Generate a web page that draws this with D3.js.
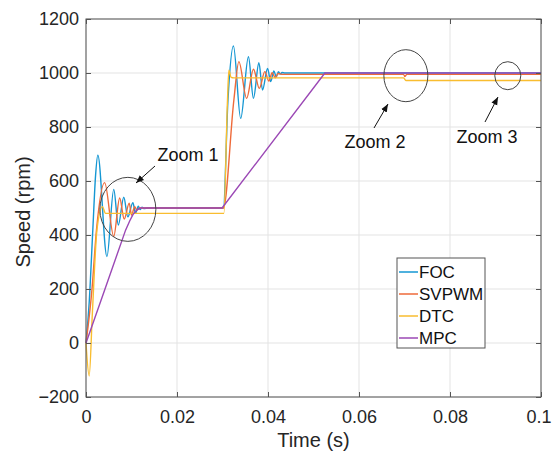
<!DOCTYPE html>
<html>
<head>
<meta charset="utf-8">
<script src="https://cdn.jsdelivr.net/npm/d3@7"></script>
<style>
  body { margin: 0; background: #fff; }
  svg { font-family: "Liberation Sans", Arial, sans-serif; }
</style>
</head>
<body>
<div id="chart"></div>
<script>
// Speed responses: [time (s), speed (rpm)]
var focData = [
  [0, 0], [0.0007, 150], [0.0015, 420], [0.0021, 620], [0.0026, 696],
  [0.0046, 320], [0.0061, 569], [0.0071, 437], [0.0083, 540], [0.0092, 467],
  [0.0103, 520], [0.0109, 481], [0.0115, 507], [0.0119, 494], [0.0123, 503],
  [0.0128, 498], [0.0135, 500], [0.0302, 500], [0.0312, 900], [0.0324, 1100],
  [0.0340, 832], [0.0357, 1060], [0.0368, 906], [0.0380, 1038], [0.0388, 937],
  [0.0399, 1017], [0.0406, 968], [0.0413, 1008], [0.0418, 986], [0.0423, 1005],
  [0.0427, 996], [0.0431, 1002], [0.0437, 1000], [0.1, 1000]
];
var svpwmData = [
  [0, 0], [0.0013, 196], [0.0023, 418], [0.0041, 594], [0.0061, 395],
  [0.0074, 537], [0.0084, 459], [0.0095, 518], [0.0100, 474], [0.0107, 505],
  [0.0112, 492], [0.0118, 500], [0.0302, 500], [0.0325, 900], [0.0336, 1042],
  [0.0353, 906], [0.0368, 1014], [0.0381, 943], [0.0393, 1005], [0.0402, 970],
  [0.0409, 1001], [0.0416, 982], [0.0422, 998], [0.0430, 995], [0.0698, 995],
  [0.0701, 987], [0.0705, 995], [0.1, 995]
];
var dtcData = [
  [0, 0], [0.0007, -122], [0.0014, 111], [0.0024, 418], [0.0036, 505],
  [0.0043, 480], [0.0303, 480], [0.0311, 900], [0.0314, 1010], [0.0319, 984],
  [0.0325, 982], [0.0698, 982], [0.0703, 972], [0.1, 972]
];
var mpcData = [
  [0, 0], [0.0041, 196], [0.0087, 418], [0.0096, 452], [0.0104, 478],
  [0.0112, 493], [0.012, 500], [0.0299, 500], [0.0525, 1000], [0.1, 1000]
];

var seriesNames = ["FOC", "SVPWM", "DTC", "MPC"];
var seriesColors = ["#1597d3", "#ee6a3a", "#f9bd2f", "#9b48b5"];

var xTicks = [0, 0.02, 0.04, 0.06, 0.08, 0.1];
var yTicks = [-200, 0, 200, 400, 600, 800, 1000, 1200];

// Annotation labels
var zoomLabels = ["Zoom 1", "Zoom 2", "Zoom 3"];

var svgWidth = 552;
var svgHeight = 455;
var margin = { top: 19, right: 11, bottom: 58, left: 86 };
var width = svgWidth - margin.left - margin.right;
var height = svgHeight - margin.top - margin.bottom;

var svg = d3.select("#chart")
  .append("svg")
  .attr("width", svgWidth)
  .attr("height", svgHeight);

svg.append("rect")
  .attr("width", svgWidth)
  .attr("height", svgHeight)
  .attr("fill", "#fff");

var chartGroup = svg.append("g")
  .attr("transform", `translate(${margin.left}, ${margin.top})`);

var x = d3.scaleLinear().domain([0, 0.1]).range([0, width]);
var y = d3.scaleLinear().domain([-200, 1200]).range([height, 0]);

// Grid
chartGroup.append("g")
  .selectAll("line")
  .data(xTicks)
  .enter()
  .append("line")
  .attr("x1", d => x(d)).attr("x2", d => x(d))
  .attr("y1", 0).attr("y2", height)
  .attr("stroke", "#e3e3e3");

chartGroup.append("g")
  .selectAll("line")
  .data(yTicks)
  .enter()
  .append("line")
  .attr("x1", 0).attr("x2", width)
  .attr("y1", d => y(d)).attr("y2", d => y(d))
  .attr("stroke", "#e3e3e3");

// Lines: oscillating responses smoothed, MPC ramps kept straight
var smoothLine = d3.line()
  .x(d => x(d[0]))
  .y(d => y(d[1]))
  .curve(d3.curveMonotoneX);
var straightLine = d3.line()
  .x(d => x(d[0]))
  .y(d => y(d[1]));

var allData = [focData, svpwmData, dtcData, mpcData];
chartGroup.selectAll(".series")
  .data(allData)
  .enter()
  .append("path")
  .attr("class", "series")
  .attr("d", (d, i) => i === 3 ? straightLine(d) : smoothLine(d))
  .attr("fill", "none")
  .attr("stroke", (d, i) => seriesColors[i])
  .attr("stroke-width", 1.4);

// Axes (ticks pointing inward, MATLAB style)
var fmtX = d => d === 0 ? "0" : String(+d.toFixed(2));
var fmtY = d => d < 0 ? "\u2212" + Math.abs(d) : String(d);

var xAxis = chartGroup.append("g")
  .attr("transform", `translate(0, ${height})`)
  .call(d3.axisBottom(x).tickValues(xTicks).tickFormat(fmtX).tickSizeInner(-5).tickSizeOuter(0).tickPadding(13));
var yAxis = chartGroup.append("g")
  .call(d3.axisLeft(y).tickValues(yTicks).tickFormat(fmtY).tickSizeInner(-5).tickSizeOuter(0).tickPadding(7));
var xTop = chartGroup.append("g")
  .call(d3.axisTop(x).tickValues(xTicks).tickFormat("").tickSizeInner(-5).tickSizeOuter(0));
var yRight = chartGroup.append("g")
  .attr("transform", `translate(${width}, 0)`)
  .call(d3.axisRight(y).tickValues(yTicks).tickFormat("").tickSizeInner(-5).tickSizeOuter(0));

[xAxis, yAxis, xTop, yRight].forEach(function(a) {
  a.select(".domain").remove();
  a.selectAll("line").attr("stroke", "#555");
  a.selectAll("text")
    .attr("font-size", "18px")
    .attr("fill", "#262626")
    .attr("font-family", "'Liberation Sans', Arial, sans-serif");
});

// last x label sits against the right edge of the figure
xAxis.selectAll(".tick text")
  .filter(d => d === 0.1)
  .attr("text-anchor", "end")
  .attr("dx", "10px");

chartGroup.append("rect")
  .attr("width", width)
  .attr("height", height)
  .attr("fill", "none")
  .attr("stroke", "#555")
  .attr("stroke-width", 1);

// Axis labels
svg.append("text")
  .attr("x", margin.left + width / 2)
  .attr("y", 447)
  .attr("text-anchor", "middle")
  .attr("font-size", "20px")
  .attr("fill", "#262626")
  .text("Time (s)");

svg.append("text")
  .attr("transform", `translate(30, ${margin.top + height / 2 + 4}) rotate(-90)`)
  .attr("text-anchor", "middle")
  .attr("font-size", "20px")
  .attr("fill", "#262626")
  .text("Speed (rpm)");

// Zoom annotations: ellipse around a data region, arrow and label
var defs = svg.append("defs");
defs.append("marker")
  .attr("id", "arrowhead")
  .attr("viewBox", "0 0 10 10")
  .attr("refX", 10).attr("refY", 5)
  .attr("markerWidth", 8).attr("markerHeight", 8)
  .attr("orient", "auto")
  .append("path")
  .attr("d", "M0,1 L10,5 L0,9 Z")
  .attr("fill", "#111");

// centres in data units, radii and label offsets in pixels
var zoomCenters = [[0.0092, 495], [0.0703, 990], [0.0927, 990]];
var zoomRadii = [[28, 32], [22, 26], [13, 14]];
var zoomTextPos = [[188, 161], [375, 148], [487, 143]];
var zoomArrows = [[[155, 166], [136, 183]], [[374, 128], [388, 104]], [[485, 122], [498, 97]]];

zoomLabels.forEach(function(lab, i) {
  svg.append("ellipse")
    .attr("cx", margin.left + x(zoomCenters[i][0]))
    .attr("cy", margin.top + y(zoomCenters[i][1]))
    .attr("rx", zoomRadii[i][0])
    .attr("ry", zoomRadii[i][1])
    .attr("fill", "none")
    .attr("stroke", "#444")
    .attr("stroke-width", 1);
  svg.append("line")
    .attr("x1", zoomArrows[i][0][0]).attr("y1", zoomArrows[i][0][1])
    .attr("x2", zoomArrows[i][1][0]).attr("y2", zoomArrows[i][1][1])
    .attr("stroke", "#111")
    .attr("stroke-width", 1)
    .attr("marker-end", "url(#arrowhead)");
  svg.append("text")
    .attr("x", zoomTextPos[i][0])
    .attr("y", zoomTextPos[i][1])
    .attr("text-anchor", "middle")
    .attr("font-size", "18px")
    .attr("fill", "#111")
    .text(lab);
});

// Legend
var legend = svg.append("g").attr("transform", "translate(397, 258)");
legend.append("rect")
  .attr("width", 88)
  .attr("height", 90)
  .attr("fill", "#fff")
  .attr("stroke", "#555");
seriesNames.forEach(function(name, i) {
  var ly = 14 + i * 22;
  legend.append("line")
    .attr("x1", 2).attr("x2", 21)
    .attr("y1", ly).attr("y2", ly)
    .attr("stroke", seriesColors[i])
    .attr("stroke-width", 1.5);
  legend.append("text")
    .attr("x", 22)
    .attr("y", ly + 6)
    .attr("font-size", "17px")
    .attr("fill", "#111")
    .text(name);
});
</script>
</body>
</html>
